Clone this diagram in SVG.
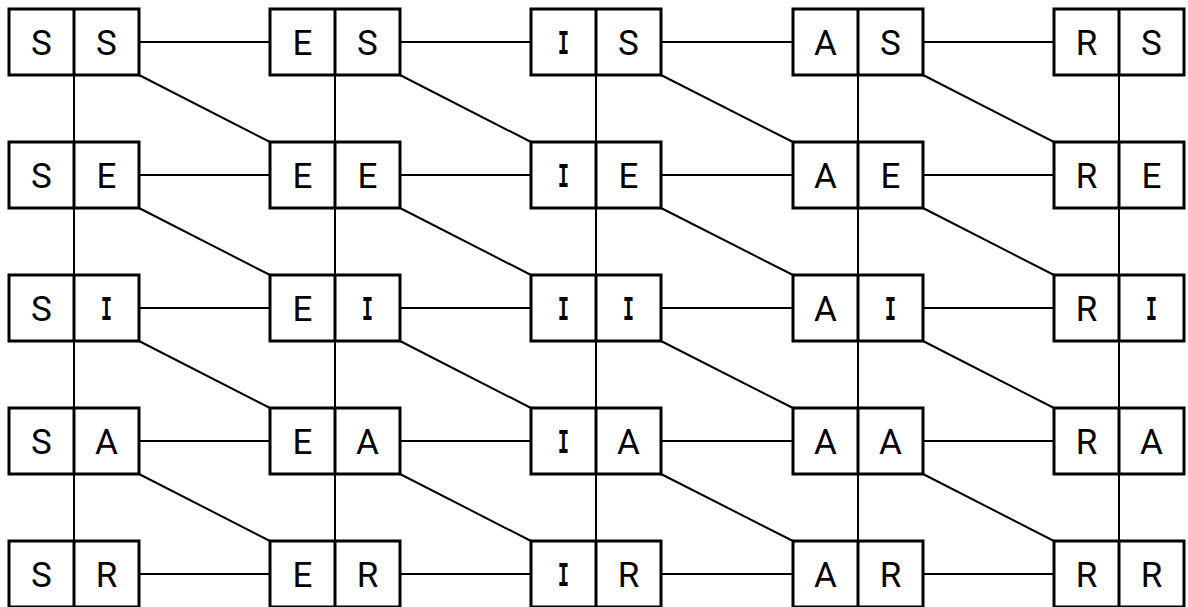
<svg xmlns="http://www.w3.org/2000/svg" width="1188" height="607" viewBox="0 0 1188 607">
<style>
.box{fill:#fff;stroke:#000;stroke-width:3}
.div{stroke:#000;stroke-width:3}
.c{fill:none;stroke:#000;stroke-width:2}
text{font-family:"Roboto","Liberation Sans",sans-serif;font-size:35px;text-anchor:middle;fill:#000}
text.i{font-family:"DejaVu Sans Mono","Liberation Mono",monospace;font-size:31.5px;font-weight:bold}
</style>
<rect width="1188" height="607" fill="#fff"/>
<g id="connectors">
<path class="c" d="M139 42H270M400 42H531M661 42H793M923 42H1054
M139 175H270M400 175H531M661 175H793M923 175H1054
M139 308H270M400 308H531M661 308H793M923 308H1054
M139 441H270M400 441H531M661 441H793M923 441H1054
M139 574H270M400 574H531M661 574H793M923 574H1054"/>
<path class="c" d="M74 75V142M74 208V275M74 341V408M74 474V541
M335 75V142M335 208V275M335 341V408M335 474V541
M596 75V142M596 208V275M596 341V408M596 474V541
M858 75V142M858 208V275M858 341V408M858 474V541
M1119 75V142M1119 208V275M1119 341V408M1119 474V541"/>
<path class="c" d="M139 75L270 142M400 75L531 142M661 75L793 142M923 75L1054 142
M139 208L270 275M400 208L531 275M661 208L793 275M923 208L1054 275
M139 341L270 408M400 341L531 408M661 341L793 408M923 341L1054 408
M139 474L270 541M400 474L531 541M661 474L793 541M923 474L1054 541"/>
</g>
<defs>
<g id="cell"><rect class="box" x="0" y="0" width="130" height="66"/><line class="div" x1="65" y1="0" x2="65" y2="66"/></g>
</defs>
<g id="n-SS"><use href="#cell" x="9" y="9"/><text x="41.5" y="54.5">S</text><text x="106.5" y="54.5">S</text></g>
<g id="n-ES"><use href="#cell" x="270" y="9"/><text x="302.5" y="54.5">E</text><text x="367.5" y="54.5">S</text></g>
<g id="n-IS"><use href="#cell" x="531" y="9"/><text class="i" transform="translate(563.5 53.5) scale(0.6 1)">I</text><text x="628.5" y="54.5">S</text></g>
<g id="n-AS"><use href="#cell" x="793" y="9"/><text x="825.5" y="54.5">A</text><text x="890.5" y="54.5">S</text></g>
<g id="n-RS"><use href="#cell" x="1054" y="9"/><text x="1086.5" y="54.5">R</text><text x="1151.5" y="54.5">S</text></g>
<g id="n-SE"><use href="#cell" x="9" y="142"/><text x="41.5" y="187.5">S</text><text x="106.5" y="187.5">E</text></g>
<g id="n-EE"><use href="#cell" x="270" y="142"/><text x="302.5" y="187.5">E</text><text x="367.5" y="187.5">E</text></g>
<g id="n-IE"><use href="#cell" x="531" y="142"/><text class="i" transform="translate(563.5 186.5) scale(0.6 1)">I</text><text x="628.5" y="187.5">E</text></g>
<g id="n-AE"><use href="#cell" x="793" y="142"/><text x="825.5" y="187.5">A</text><text x="890.5" y="187.5">E</text></g>
<g id="n-RE"><use href="#cell" x="1054" y="142"/><text x="1086.5" y="187.5">R</text><text x="1151.5" y="187.5">E</text></g>
<g id="n-SI"><use href="#cell" x="9" y="275"/><text x="41.5" y="320.5">S</text><text class="i" transform="translate(106.5 319.5) scale(0.6 1)">I</text></g>
<g id="n-EI"><use href="#cell" x="270" y="275"/><text x="302.5" y="320.5">E</text><text class="i" transform="translate(367.5 319.5) scale(0.6 1)">I</text></g>
<g id="n-II"><use href="#cell" x="531" y="275"/><text class="i" transform="translate(563.5 319.5) scale(0.6 1)">I</text><text class="i" transform="translate(628.5 319.5) scale(0.6 1)">I</text></g>
<g id="n-AI"><use href="#cell" x="793" y="275"/><text x="825.5" y="320.5">A</text><text class="i" transform="translate(890.5 319.5) scale(0.6 1)">I</text></g>
<g id="n-RI"><use href="#cell" x="1054" y="275"/><text x="1086.5" y="320.5">R</text><text class="i" transform="translate(1151.5 319.5) scale(0.6 1)">I</text></g>
<g id="n-SA"><use href="#cell" x="9" y="408"/><text x="41.5" y="453.5">S</text><text x="106.5" y="453.5">A</text></g>
<g id="n-EA"><use href="#cell" x="270" y="408"/><text x="302.5" y="453.5">E</text><text x="367.5" y="453.5">A</text></g>
<g id="n-IA"><use href="#cell" x="531" y="408"/><text class="i" transform="translate(563.5 452.5) scale(0.6 1)">I</text><text x="628.5" y="453.5">A</text></g>
<g id="n-AA"><use href="#cell" x="793" y="408"/><text x="825.5" y="453.5">A</text><text x="890.5" y="453.5">A</text></g>
<g id="n-RA"><use href="#cell" x="1054" y="408"/><text x="1086.5" y="453.5">R</text><text x="1151.5" y="453.5">A</text></g>
<g id="n-SR"><use href="#cell" x="9" y="541"/><text x="41.5" y="586.5">S</text><text x="106.5" y="586.5">R</text></g>
<g id="n-ER"><use href="#cell" x="270" y="541"/><text x="302.5" y="586.5">E</text><text x="367.5" y="586.5">R</text></g>
<g id="n-IR"><use href="#cell" x="531" y="541"/><text class="i" transform="translate(563.5 585.5) scale(0.6 1)">I</text><text x="628.5" y="586.5">R</text></g>
<g id="n-AR"><use href="#cell" x="793" y="541"/><text x="825.5" y="586.5">A</text><text x="890.5" y="586.5">R</text></g>
<g id="n-RR"><use href="#cell" x="1054" y="541"/><text x="1086.5" y="586.5">R</text><text x="1151.5" y="586.5">R</text></g>
</svg>
